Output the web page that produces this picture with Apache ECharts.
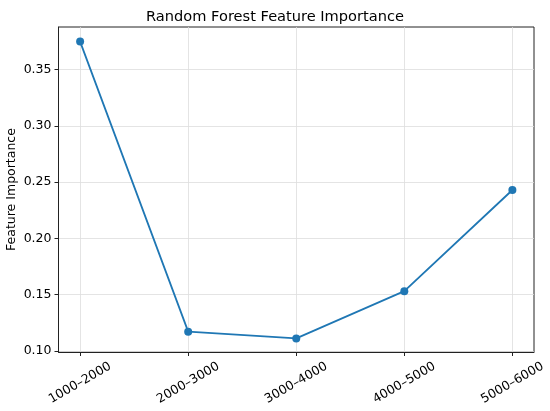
<!DOCTYPE html>
<html>
<head>
<meta charset="utf-8">
<script src="https://cdn.jsdelivr.net/npm/echarts@6/dist/echarts.min.js"></script>
<style>
  html, body { margin: 0; padding: 0; background: #fff; }
  #main { width: 550px; height: 411px; }
</style>
</head>
<body>
<div id="main"></div>
<script>
// 价格区间 (x轴类别)
const categories = ["1000–2000", "2000–3000", "3000–4000", "4000–5000", "5000–6000"];
// 特征重要性
const importance = [0.375, 0.117, 0.111, 0.153, 0.243];
// y轴刻度
const yTicks = [0.10, 0.15, 0.20, 0.25, 0.30, 0.35];
const xTicks = [0, 1, 2, 3, 4];

const fontFamily = "DejaVu Sans";
let myChart = echarts.init(document.getElementById("main"));

let option = {
  backgroundColor: "#ffffff",
  animation: false,
  title: {
    text: "Random Forest Feature Importance",
    left: "center",
    top: 5,
    textStyle: { fontFamily: fontFamily, fontSize: 14.6, fontWeight: "normal", color: "#000" }
  },
  grid: {
    left: 58.5,
    right: 16,
    top: 27,
    bottom: 59,
    outerBoundsMode: "none",
    containLabel: false,
    show: true,
    borderColor: "#222",
    borderWidth: 1
  },
  xAxis: {
    type: "value",
    min: -0.2,
    max: 4.2,
    axisLine: { show: true, onZero: false, lineStyle: { color: "#222", width: 1 } },
    axisTick: { show: true, length: 4, customValues: xTicks, lineStyle: { color: "#222" } },
    axisLabel: {
      customValues: xTicks,
      rotate: 30,
      margin: 31,
      align: "center",
      verticalAlign: "middle",
      fontFamily: fontFamily,
      fontSize: 12.5,
      color: "#000",
      formatter: function(v) { return categories[Math.round(v)]; }
    },
    splitLine: { show: true, lineStyle: { color: "#dddddd", width: 0.8 } }
  },
  yAxis: {
    type: "value",
    min: 0.0989,
    max: 0.388,
    name: "Feature Importance",
    nameLocation: "middle",
    nameGap: 40,
    nameMoveOverlap: false,
    nameTextStyle: { fontFamily: fontFamily, fontSize: 12.5, color: "#000" },
    axisLine: { show: true, onZero: false, lineStyle: { color: "#222", width: 1 } },
    axisTick: { show: true, length: 4, customValues: yTicks, lineStyle: { color: "#222" } },
    axisLabel: {
      customValues: yTicks,
      margin: 7,
      fontFamily: fontFamily,
      fontSize: 12.5,
      color: "#000",
      formatter: function(v) { return v.toFixed(2); }
    },
    splitLine: { show: true, lineStyle: { color: "#dddddd", width: 0.8 } }
  },
  series: [
    {
      type: "line",
      data: importance.map((v, i) => [i, v]),
      symbol: "circle",
      symbolSize: 8,
      lineStyle: { color: "#1f77b4", width: 1.8 },
      itemStyle: { color: "#1f77b4" }
    }
  ]
};
myChart.setOption(option);
</script>
</body>
</html>
